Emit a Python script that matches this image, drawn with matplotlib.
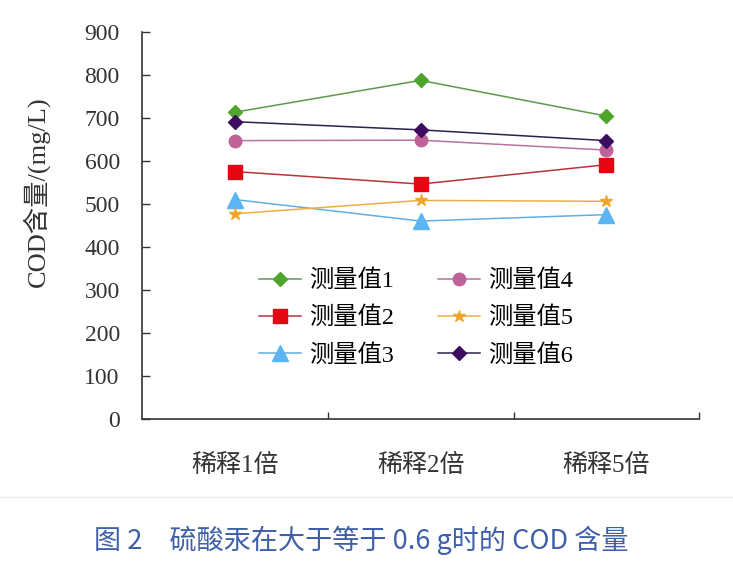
import matplotlib
matplotlib.use("Agg")
import matplotlib.pyplot as plt
from matplotlib.lines import Line2D

plt.rcParams['font.family'] = ['Liberation Serif', 'Noto Sans CJK SC']

# data
categories = ["稀释1倍", "稀释2倍", "稀释5倍"]
s1 = [713, 787, 704]
s2 = [575, 546, 591]
s3 = [510, 460, 475]
s4 = [647, 648, 625]
s5 = [477, 508, 506]
s6 = [691, 672, 647]
labels = ["测量值1", "测量值2", "测量值3", "测量值4", "测量值5", "测量值6"]
yticks = [0, 100, 200, 300, 400, 500, 600, 700, 800, 900]

fig = plt.figure(figsize=(7.33, 5.67), dpi=100)
ax = fig.add_axes([0.1937, 0.261, 0.7603, 0.683])

x = range(len(categories))
styles = [
    (s1, "#5b9a4e", "D", "#4ea52c", 7),
    (s2, "#b8343c", "s", "#e30613", 10),
    (s3, "#62aee0", "^", "#5bb5f2", 11),
    (s4, "#b8739c", "o", "#c0629a", 9),
    (s5, "#e9b04a", "*", "#f0a52a", 9),
    (s6, "#2e1f4e", "D", "#3c0c5e", 7),
]
for (vals, lc, mk, mc, ms), lab in zip(styles, labels):
    ax.plot(x, vals, color=lc, lw=1.1, marker=mk, markerfacecolor=mc,
            markeredgecolor=mc, markersize=ms, label=lab)

ax.set_xlim(-0.5, 2.5)
ax.set_ylim(0, 900)
ax.set_yticks(yticks)
ax.set_xticks(list(x))
ax.set_xticklabels(categories, fontsize=18, color="#333333")
ax.set_xticks([0.5, 1.5, 2.5], minor=True)
ax.tick_params(axis="x", which="major", length=0, pad=25)
ax.tick_params(axis="x", which="minor", direction="in", length=5, width=1, color="#333333")
ax.tick_params(axis="y", direction="in", length=6, width=1, labelsize=17,
               labelcolor="#333333", color="#333333", pad=16)
for s in ["top", "right"]:
    ax.spines[s].set_visible(False)
for s in ["left", "bottom"]:
    ax.spines[s].set_color("#333333")
    ax.spines[s].set_linewidth(1.2)

ax.set_ylabel("COD含量/(mg/L)", fontsize=19, color="#333333")
ax.yaxis.set_label_coords(-0.165, 0.587)

ax.legend(ncol=2, loc="upper left", bbox_to_anchor=(0.17, 0.442), frameon=False,
          handlelength=1.75, handletextpad=0.33, columnspacing=1.8,
          labelspacing=0.6, prop={"size": 17.5})

# separator line and caption
fig.add_artist(Line2D([0, 1], [1 - 497 / 567, 1 - 497 / 567], color="#ececec", lw=1))
fig.text(0.493, 1 - 540 / 567, "图 2　硫酸汞在大于等于 0.6 g时的 COD 含量",
         ha="center", va="center", fontsize=19.5, color="#3f5fa8",
         family=["Noto Sans CJK SC", "DejaVu Sans"])

fig.savefig("out.png", dpi=100)
